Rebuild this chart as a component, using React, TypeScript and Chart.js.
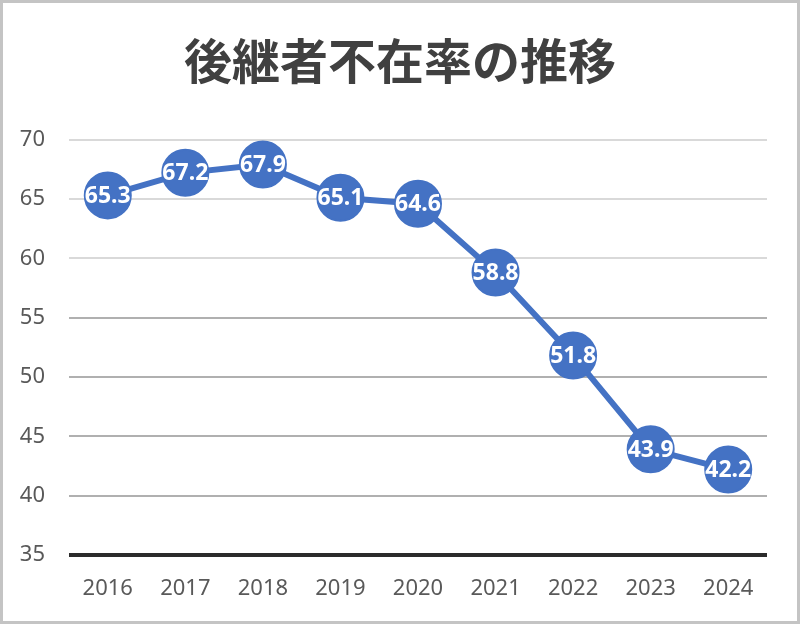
import React, { useEffect, useRef } from 'react';
import { Chart, registerables } from 'chart.js';

Chart.register(...registerables);

const years = ['2016', '2017', '2018', '2019', '2020', '2021', '2022', '2023', '2024'];
const rates = [65.3, 67.2, 67.9, 65.1, 64.6, 58.8, 51.8, 43.9, 42.2];
const yTicks = [35, 40, 45, 50, 55, 60, 65, 70];

const BLUE = '#4472C4';

// white value inside each marker
const valueLabels = {
  id: 'valueLabels',
  afterDatasetsDraw(chart: any) {
    const ctx = chart.ctx;
    const meta = chart.getDatasetMeta(0);
    ctx.save();
    ctx.fillStyle = '#ffffff';
    ctx.font = 'bold 23px "Noto Sans"';
    ctx.textAlign = 'center';
    ctx.textBaseline = 'middle';
    meta.data.forEach((pt: any, i: number) => {
      ctx.fillText(rates[i].toFixed(1), pt.x, pt.y + 1);
    });
    ctx.restore();
  },
};

const App = () => {
  const canvasRef = useRef<HTMLCanvasElement>(null);

  useEffect(() => {
    if (!canvasRef.current) return;

    const chart = new Chart(canvasRef.current, {
      type: 'line',
      data: {
        labels: years,
        datasets: [{
          data: rates,
          borderColor: BLUE,
          borderWidth: 6,
          backgroundColor: BLUE,
          pointRadius: 23,
          pointHoverRadius: 23,
          pointBorderWidth: 2,
          pointBorderColor: BLUE,
          pointBackgroundColor: BLUE,
          tension: 0,
          clip: false,
        }],
      },
      options: {
        animation: false,
        responsive: true,
        maintainAspectRatio: false,
        layout: { padding: { left: 0, right: 0, top: 0, bottom: 20 } },
        plugins: {
          legend: { display: false },
          tooltip: { enabled: false },
          title: {
            display: true,
            text: '後継者不在率の推移',
            color: '#404040',
            font: { family: '"Noto Sans CJK JP"', size: 48, weight: 'bold', lineHeight: 1.2 },
            padding: { top: 29, bottom: 50 },
          },
        },
        scales: {
          x: {
            offset: true,
            afterFit: (scale: any) => { scale.height = 46; },
            grid: { display: false },
            border: { display: false },
            ticks: {
              color: '#595959',
              padding: 13,
              maxRotation: 0,
              autoSkip: false,
              font: { family: '"Noto Sans"', size: 22 },
            },
          },
          y: {
            min: 35,
            max: 70,
            afterFit: (scale: any) => { scale.width = 66; },
            afterBuildTicks: (scale: any) => {
              scale.ticks = yTicks.map((v) => ({ value: v }));
            },
            border: { display: false },
            grid: {
              drawTicks: false,
              color: (c: any) => (c.tick.value === 35 ? '#2b2b2b' : c.tick.value >= 60 ? '#d9d9d9' : '#b0b0b0'),
              lineWidth: (c: any) => (c.tick.value === 35 ? 4 : 2),
            },
            ticks: {
              color: '#595959',
              padding: 24,
              font: { family: '"Noto Sans"', size: 22 },
            },
          },
          // empty right-hand strip so the title stays centred on the canvas
          yr: {
            position: 'right',
            afterFit: (scale: any) => { scale.width = 30; },
            grid: { display: false },
            border: { display: false },
            ticks: { display: false },
          },
        },
      },
      plugins: [valueLabels],
    });

    return () => {
      chart.destroy();
    };
  }, []);

  return (
    <div
      style={{
        position: 'absolute',
        left: 0,
        top: 0,
        width: 800,
        height: 624,
        boxSizing: 'border-box',
        border: '3px solid #c4c4c4',
        background: '#fff',
      }}
    >
      <div style={{ position: 'relative', width: 794, height: 618 }}>
        <canvas ref={canvasRef} />
      </div>
    </div>
  );
};

export default App;
